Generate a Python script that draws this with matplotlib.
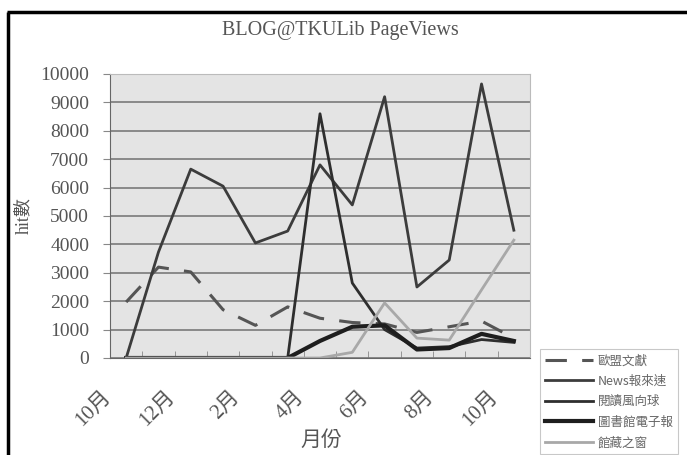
import numpy as np
import matplotlib
matplotlib.use("Agg")
import matplotlib.pyplot as plt
import matplotlib.transforms as mtransforms
from matplotlib.lines import Line2D

months = ['10月', '11月', '12月', '1月', '2月', '3月', '4月',
          '5月', '6月', '7月', '8月', '9月', '10月']

eu_docs = [1970, 3200, 3030, 1700, 1150, 1800, 1400, 1250, 1200, 900, 1100, 1300, 700]
news = [0, 3730, 6650, 6050, 4050, 4470, 6800, 5390, 9200, 2500, 3450, 9650, 4500]
reading = [0, 0, 0, 0, 0, 0, 8600, 2640, 1000, 350, 400, 650, 550]
enews = [0, 0, 0, 0, 0, 0, 600, 1100, 1150, 300, 350, 850, 600]
window = [0, 0, 0, 0, 0, 0, 0, 200, 1940, 700, 630, 2400, 4150]

labels = ['歐盟文獻', 'News報來速', '閱讀風向球', '圖書館電子報', '館藏之窗']

serif = ['Liberation Serif', 'Noto Sans CJK TC']
cjk = ['Noto Sans CJK TC', 'DejaVu Sans']

fig = plt.figure(figsize=(6.87, 4.55), dpi=100)
fig.patch.set_facecolor('white')

# outer frame of the scanned chart: only top and left edges show
fx, fy = 8 / 687, 1 - 12 / 455
fig.add_artist(Line2D([fx, fx], [0, fy], transform=fig.transFigure,
                      color='black', lw=2.5, solid_capstyle='butt'))
fig.add_artist(Line2D([fx - 0.002, 1], [fy, fy], transform=fig.transFigure,
                      color='black', lw=2.5, solid_capstyle='butt'))

ax = fig.add_axes([110 / 687, 1 - 358 / 455, 420 / 687, 284 / 455])
ax.set_facecolor('#e4e4e4')

x = np.arange(len(months))
ax.plot(x, eu_docs, color='#555555', lw=2.2, dashes=(7, 5), label=labels[0])
ax.plot(x, news, color='#3c3c3c', lw=2.0, label=labels[1])
ax.plot(x, reading, color='#2e2e2e', lw=2.0, label=labels[2])
ax.plot(x, enews, color='#1e1e1e', lw=3.0, label=labels[3])
ax.plot(x, window, color='#a8a8a8', lw=2.0, label=labels[4])

ax.set_xlim(-0.5, len(months) - 0.5)
ax.set_ylim(0, 10000)
ax.set_yticks(np.arange(0, 10001, 1000))
ax.yaxis.grid(True, color='#7a7a7a', lw=1.2)
ax.set_axisbelow(True)

ax.set_xticks(x[::2])
ax.set_xticklabels(months[::2], rotation=45, ha='right', va='top',
                   family=serif, fontsize=15, color='#555555')
ax.set_xticks(np.arange(-0.5, len(months), 1), minor=True)
ax.tick_params(axis='x', which='major', length=0, pad=21)
ax.tick_params(axis='x', which='minor', direction='in', length=5, color='#888888')
ax.tick_params(axis='y', direction='out', length=5, color='#888888', pad=10,
               labelsize=14, labelcolor='#555555')
for t in ax.get_yticklabels():
    t.set_family(serif)
shift = mtransforms.ScaledTranslation(-12 / 100, 0, fig.dpi_scale_trans)
for t in ax.get_xticklabels():
    t.set_transform(t.get_transform() + shift)

for side in ['top', 'right']:
    ax.spines[side].set_color('#bbbbbb')
ax.spines['left'].set_color('#666666')
ax.spines['bottom'].set_color('#666666')

fig.text(340 / 687, 1 - 31 / 455, 'BLOG@TKULib PageViews', family=serif,
         fontsize=14.5, color='#555555', ha='center', va='center')
fig.text(321 / 687, 1 - 440 / 455, '月份', family=cjk, fontsize=15,
         color='#555555', ha='center', va='center')
ax.set_ylabel('hit數', family=serif, fontsize=13, color='#555555', labelpad=6)

leg = fig.legend(loc='upper left', bbox_to_anchor=(534 / 687, 1 - 343 / 455),
                 prop={'family': cjk, 'size': 9}, handlelength=3.8,
                 labelspacing=0.6, frameon=True, fancybox=False,
                 borderpad=0.4, handletextpad=0.4)
leg.get_frame().set_edgecolor('#bbbbbb')
leg.get_frame().set_linewidth(0.8)
for t in leg.get_texts():
    t.set_color('#666666')

fig.savefig('out.png', dpi=100)
